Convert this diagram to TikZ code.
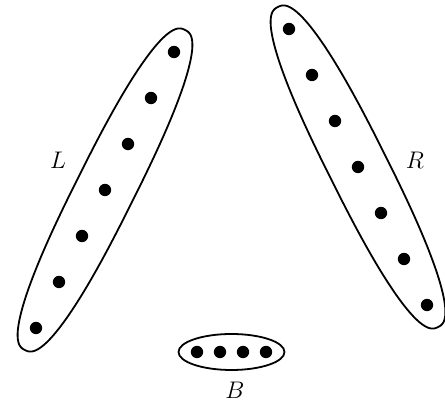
\documentclass[tikz,border=0pt]{standalone}
\usetikzlibrary{calc}
\tikzset{
  every picture/.style={line width=0.9pt},
  dot/.style={circle, fill=black, inner sep=0pt, minimum size=6.2pt},
  outline/.style={draw=black, line width=0.9pt},
  setlabel/.style={font=\large},
}
\begin{document}
\begin{tikzpicture}[x=0.5pt, y=0.5pt]
  \useasboundingbox (0,0) rectangle (445,401);
  % the three sets of points
  \foreach \i in {1,...,7} {
    \node[dot] (l\i) at ({36+23*(\i-1)}, {73+46*(\i-1)}) {};
    \node[dot] (r\i) at ({289+23*(\i-1)}, {372-46*(\i-1)}) {};
  }
  \foreach \i in {1,...,4}
    \node[dot] (b\i) at ({197+23*(\i-1)}, 49) {};
  \coordinate (bc) at ($(b2)!0.5!(b3)$);
  % outlines round L and R
  \foreach \c/\a in {l4/63.43, r4/-63.43} {
    \begin{scope}[shift={(\c)}, rotate=\a]
      \draw[outline] plot[smooth cycle, domain=1.25:358.75, samples=144, variable=\t]
        ({179*sign(cos(\t))*abs(cos(\t))^0.8}, {29.5*sign(sin(\t))*abs(sin(\t))^0.8});
    \end{scope}
  }
  \draw[outline] (bc) ellipse [x radius=26.5pt, y radius=9pt];
  % names
  \node[setlabel] (L) at (58,241) {$L$};
  \node[setlabel] (R) at (415,241) {$R$};
  \node[setlabel] (B) at (235,11) {$B$};
\end{tikzpicture}
\end{document}
